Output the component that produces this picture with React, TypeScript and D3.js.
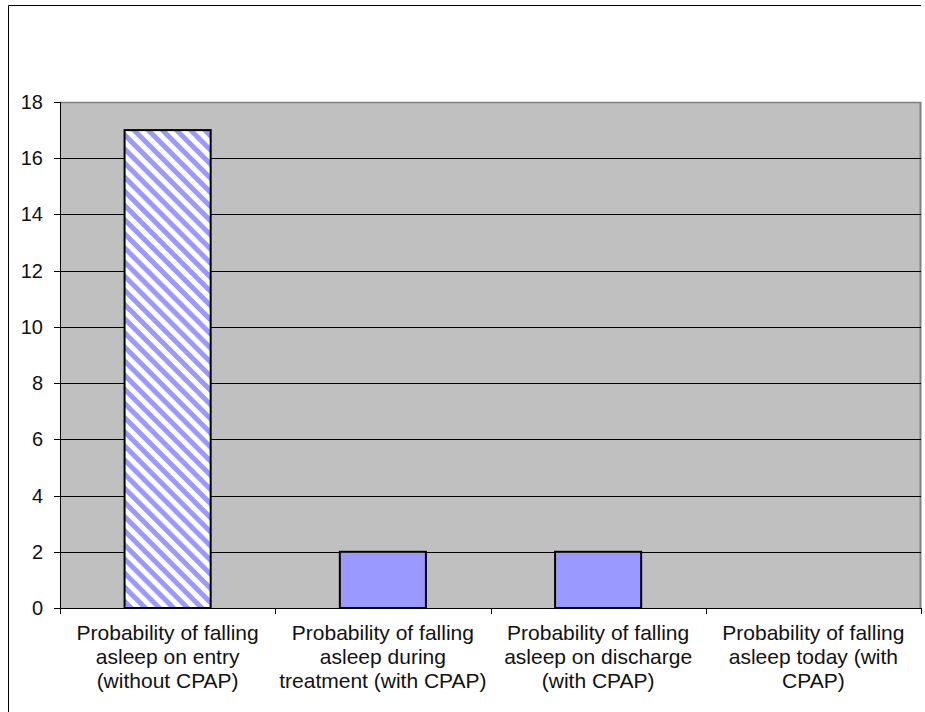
import React from "react";
import { scaleBand, scaleLinear } from "d3";

const width = 925;
const height = 712;
const margin = { top: 102, right: 4, bottom: 104, left: 60 };

// chart data
const categories = [
  ["Probability of falling", "asleep on entry", "(without CPAP)"],
  ["Probability of falling", "asleep during", "treatment (with CPAP)"],
  ["Probability of falling", "asleep on discharge", "(with CPAP)"],
  ["Probability of falling", "asleep today (with", "CPAP)"],
];
const values = [17, 2, 2, 0];
const yTicks = [0, 2, 4, 6, 8, 10, 12, 14, 16, 18];

const font = "Liberation Sans, Arial, sans-serif";

const App = () => {
  const innerWidth = width - margin.left - margin.right;
  const innerHeight = height - margin.top - margin.bottom;
  const keys = categories.map((c, i) => String(i));

  const xScale = scaleBand().domain(keys).range([0, innerWidth]).paddingInner(0);
  const yScale = scaleLinear().domain([0, 18]).range([innerHeight, 0]);
  const barW = xScale.bandwidth() * 0.4;

  return (
    <svg width={width} height={height} style={{ position: "absolute", left: 0, top: 0 }}>
      <defs>
        <pattern id="hatch" width="10" height="10" patternUnits="userSpaceOnUse" patternTransform="rotate(-45)">
          <rect width="10" height="10" fill="white" />
          <rect width="5" height="10" fill="#9999ff" />
        </pattern>
      </defs>
      <rect width={width} height={height} fill="white" />
      {/* outer chart frame (only top/left visible) */}
      <line x1={8.5} y1={5.5} x2={921} y2={5.5} stroke="black" />
      <line x1={8.5} y1={5.5} x2={8.5} y2={height} stroke="black" />

      <g transform={`translate(${margin.left}, ${margin.top})`}>
        <rect width={innerWidth} height={innerHeight} fill="#c0c0c0" />
        <line x1={0} y1={0.5} x2={innerWidth} y2={0.5} stroke="#808080" strokeWidth={1.5} />
        <line x1={innerWidth - 0.5} y1={0} x2={innerWidth - 0.5} y2={innerHeight} stroke="#808080" strokeWidth={2} />

        {yTicks.map((t) => (
          <g key={t}>
            {t > 0 && t < 18 && (
              <line x1={0} x2={innerWidth} y1={Math.round(yScale(t)) + 0.5} y2={Math.round(yScale(t)) + 0.5} stroke="black" />
            )}
            <line x1={-6} x2={0} y1={Math.round(yScale(t)) + 0.5} y2={Math.round(yScale(t)) + 0.5} stroke="black" />
            <text x={-17} y={yScale(t) + 7} fontSize="20" fontFamily={font} textAnchor="end" fill="#111">
              {t}
            </text>
          </g>
        ))}

        {values.map((v, i) =>
          v > 0 ? (
            <rect
              key={i}
              x={xScale(keys[i])! + (xScale.bandwidth() - barW) / 2}
              y={yScale(v)}
              width={barW}
              height={innerHeight - yScale(v)}
              fill={i === 0 ? "url(#hatch)" : "#9999ff"}
              stroke="black"
              strokeWidth={2}
            />
          ) : null
        )}

        <line x1={0.5} x2={0.5} y1={0} y2={innerHeight} stroke="black" />
        <line x1={0} x2={innerWidth} y1={innerHeight + 0.5} y2={innerHeight + 0.5} stroke="black" />
        {[...keys.map((k) => xScale(k)!), innerWidth].map((x, i) => (
          <line key={i} x1={Math.round(x) + 0.5} x2={Math.round(x) + 0.5} y1={innerHeight} y2={innerHeight + 6} stroke="black" />
        ))}

        {categories.map((lines, i) => (
          <text
            key={i}
            x={xScale(keys[i])! + xScale.bandwidth() / 2}
            y={innerHeight + 32}
            fontSize="21"
            fontFamily={font}
            textAnchor="middle"
            fill="#111"
          >
            {lines.map((l, j) => (
              <tspan key={j} x={xScale(keys[i])! + xScale.bandwidth() / 2} dy={j === 0 ? 0 : 24}>
                {l}
              </tspan>
            ))}
          </text>
        ))}
      </g>
    </svg>
  );
};

export default App;
